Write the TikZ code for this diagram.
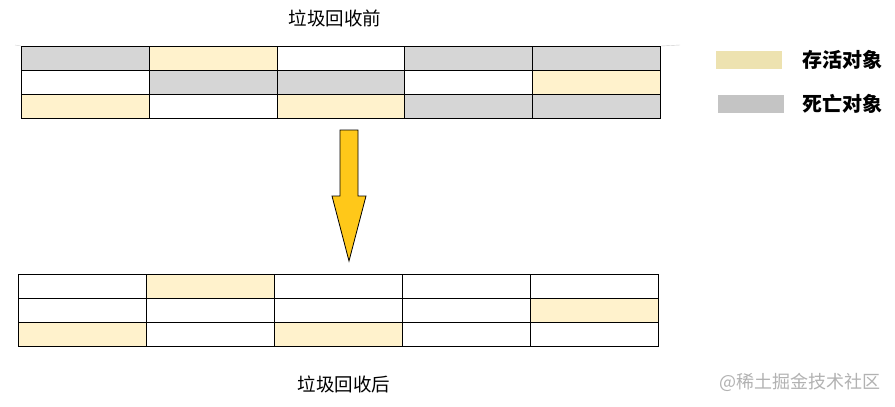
\documentclass[tikz,border=0pt]{standalone}
\usepackage{fontspec}
\newfontfamily\cjk{Noto Sans CJK SC}
\usetikzlibrary{positioning}
\definecolor{live}{HTML}{FFF2CC}
\definecolor{dead}{HTML}{D6D6D6}
\definecolor{livekey}{HTML}{EDE2B0}
\definecolor{deadkey}{HTML}{C4C4C4}
\definecolor{arrowfill}{HTML}{FFC819}
\tikzset{
	cell/.style={draw, line width=1pt, minimum width=127.8pt, minimum height=24pt, inner sep=0pt, anchor=north west},
	key/.style={minimum width=66pt, minimum height=18pt, inner sep=0pt},
	keytext/.style={font=\cjk\bfseries\fontsize{20}{20}\selectfont, inner sep=0pt},
	title/.style={font=\cjk\fontsize{18.5}{18.5}\selectfont, inner sep=0pt}
}
\begin{document}
\begin{tikzpicture}[x=1pt, y=-1pt]
	\useasboundingbox (0,0) rectangle (895,407) ;
	\fill[white] (0,0) rectangle (895,407) ;
		\node (t1)[title] at (335, 18) {垃圾回收前} ;
		\node (t2)[title] at (344, 384) {垃圾回收后} ;
	% before
	\foreach \c [count=\i from 0] in {dead,live,white,dead,dead}
		\node (b1\i)[cell, fill=\c] at ({21+\i*127.8}, 46) {} ;
	\foreach \c [count=\i from 0] in {white,dead,dead,white,live}
		\node (b2\i)[cell, fill=\c] at ({21+\i*127.8}, 70) {} ;
	\foreach \c [count=\i from 0] in {live,white,live,dead,dead}
		\node (b3\i)[cell, fill=\c] at ({21+\i*127.8}, 94) {} ;
	\draw[black!20] (15,45) -- (b10.north west) ;
	\draw[black!20] (b14.north east) -- (680,45) ;
	% after
	\foreach \c [count=\i from 0] in {white,live,white,white,white}
		\node (a1\i)[cell, minimum width=128pt, fill=\c] at ({18+\i*128}, 274) {} ;
	\foreach \c [count=\i from 0] in {white,white,white,white,live}
		\node (a2\i)[cell, minimum width=128pt, fill=\c] at ({18+\i*128}, 298) {} ;
	\foreach \c [count=\i from 0] in {live,white,live,white,white}
		\node (a3\i)[cell, minimum width=128pt, fill=\c] at ({18+\i*128}, 322) {} ;
	% arrow
	\draw[fill=arrowfill, line width=0.8pt, line join=miter]
		(340,130) -- (358,130) -- (358,196) -- (366,196) -- (349,261)
		-- (332,196) -- (340,196) -- cycle ;
	% legend
		\node (k1)[key, fill=livekey] at (749, 60) {} ;
		\node (k2)[key, fill=deadkey] at (751, 104) {} ;
		\node (l1)[keytext, right=20pt of k1] {存活对象} ;
		\node (l2)[keytext, right=18pt of k2] {死亡对象} ;
		% \node (l3)[keytext] at (840, 140) {} ;
		\node (wm)[font=\cjk\fontsize{18}{18}\selectfont, text=black!30, inner sep=0pt] at (800, 382) {@稀土掘金技术社区} ;
\end{tikzpicture}
\end{document}
